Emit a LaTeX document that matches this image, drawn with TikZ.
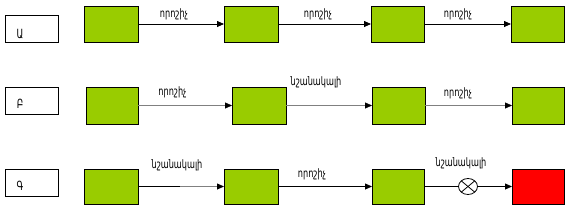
\documentclass[tikz,border=0pt]{standalone}
\usepackage{fontspec}
\usepackage{graphicx}
\newfontfamily\arm{DejaVu Sans}
\usetikzlibrary{arrows.meta,shapes.geometric,calc}
\definecolor{gfill}{HTML}{99CC00}
\definecolor{rfill}{HTML}{FF0000}
\definecolor{garr}{HTML}{808080}
\newcommand{\edgetxt}[1]{\scalebox{1.02}[1.45]{\arm\fontsize{8}{8}\selectfont #1}}
\newcommand{\rowtxt}[1]{\scalebox{0.8}[1.15]{\arm\fontsize{11}{11}\selectfont #1}}
\tikzset{
  gbox/.style={draw=black,line width=0.8pt,fill=gfill,inner sep=0pt,outer sep=0pt},
  rbox/.style={draw=black,line width=0.8pt,fill=rfill,inner sep=0pt,outer sep=0pt},
  lbox/.style={draw=black,line width=0.8pt,fill=white,inner sep=0pt,outer sep=0pt,minimum width=53pt,minimum height=27pt},
  ltext/.style={inner sep=0pt},
  etext/.style={inner sep=0pt},
  arr/.style={line width=0.8pt,draw=black,-{Triangle[length=7pt,width=6pt]}},
  garrow/.style={line width=1.8pt,draw=garr,-{Triangle[length=7pt,width=6pt,color=black,fill=black,line width=0.4pt]}},
  mcirc/.style={draw=black,line width=0.8pt,fill=white,ellipse,minimum width=19pt,minimum height=16pt,inner sep=0pt,outer sep=0pt}
}
\begin{document}
\begin{tikzpicture}[x=1pt,y=-1pt]
\useasboundingbox (0,0) rectangle (573,212);
% row 1
\node[lbox] (l1) at (31.5,28.5) {};
\node[ltext] (t1) at (20,34) {\rowtxt{Ա}};
\node[gbox,minimum width=54pt,minimum height=36pt] (a1) at (111,24) {};
\node[gbox,minimum width=54pt,minimum height=36pt] (a2) at (251,24) {};
\node[gbox,minimum width=53pt,minimum height=36pt] (a3) at (397.5,24) {};
\node[gbox,minimum width=53pt,minimum height=36pt] (a4) at (537.5,24) {};
\draw[arr] (a1.east) -- (a2.west);
\draw[arr] (a2.east) -- (a3.west);
\draw[arr] (a3.east) -- (a4.west);
\node[etext] (e11) at (174,14.5) {\edgetxt{որոշիչ}};
\node[etext] (e12) at (318,14.5) {\edgetxt{որոշիչ}};
\node[etext] (e13) at (458,14.5) {\edgetxt{որոշիչ}};
% row 2
\node[lbox] (l2) at (31.5,100.5) {};
\node[ltext] (t2) at (20,104) {\rowtxt{Բ}};
\node[gbox,minimum width=52pt,minimum height=37pt] (b1) at (112,105.5) {};
\node[gbox,minimum width=54pt,minimum height=37pt] (b2) at (259,105.5) {};
\node[gbox,minimum width=53pt,minimum height=37pt] (b3) at (398.5,105.5) {};
\node[gbox,minimum width=52pt,minimum height=37pt] (b4) at (538,105.5) {};
\draw[garrow] (b1.east) -- (b2.west);
\draw[garrow] (b2.east) -- (b3.west);
\draw[garrow] (b3.east) -- (b4.west);
\node[etext] (e21) at (172.5,92) {\edgetxt{որոշիչ}};
\node[etext] (e22) at (316,82) {\edgetxt{նշանակալի}};
\node[etext] (e23) at (458,93) {\edgetxt{որոշիչ}};
% row 3
\node[lbox] (l3) at (31.5,182.5) {};
\node[ltext] (t3) at (20,186) {\rowtxt{Գ}};
\node[gbox,minimum width=54pt,minimum height=35pt] (c1) at (111,186.5) {};
\node[gbox,minimum width=54pt,minimum height=35pt] (c2) at (251,186.5) {};
\node[gbox,minimum width=52pt,minimum height=35pt] (c3) at (398,186.5) {};
\node[rbox,minimum width=52pt,minimum height=35pt] (c4) at (538,186.5) {};
\coordinate (cm) at (180,186.5);
\node[mcirc] (x) at (468,186.5) {};
\draw[line width=0.8pt] ($(x.center)+(-6.7,-5.6)$) -- ($(x.center)+(6.7,5.6)$);
\draw[line width=0.8pt] ($(x.center)+(-6.7,5.6)$) -- ($(x.center)+(6.7,-5.6)$);
\draw[arr] (c1.east) -- (c2.west);
\draw[line width=0.8pt,draw=garr] (cm) -- ($(c2.west)+(-7,0)$);
\draw[arr] (c2.east) -- (c3.west);
\draw[line width=0.8pt] (c3.east) -- (x.west);
\draw[arr] (x.east) -- (c4.west);
\node[etext] (e31) at (177,165.5) {\edgetxt{նշանակալի}};
\node[etext] (e32) at (312,174.5) {\edgetxt{որոշիչ}};
\node[etext] (e33) at (461,163.5) {\edgetxt{նշանակալի}};
\end{tikzpicture}
\end{document}
